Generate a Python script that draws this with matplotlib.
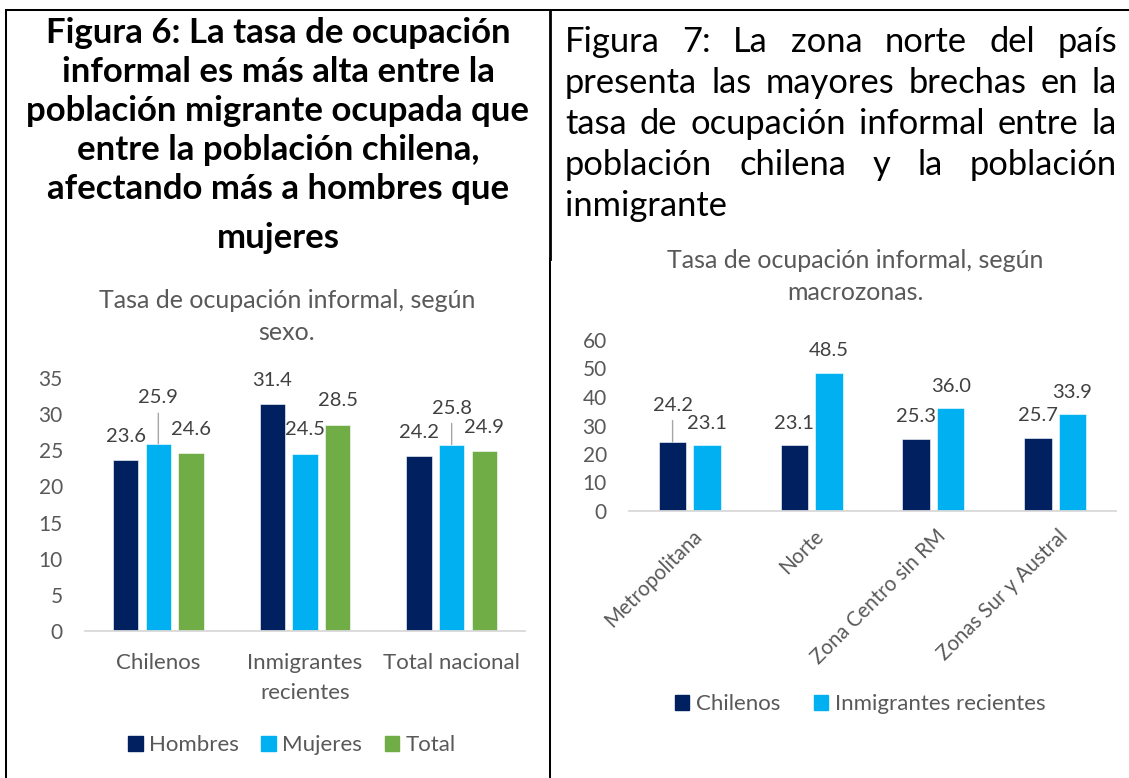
import matplotlib
matplotlib.use("Agg")
import matplotlib.pyplot as plt
from matplotlib.lines import Line2D
from matplotlib.patches import Patch
from matplotlib.transforms import offset_copy

plt.rcParams["font.family"] = ["Lato", "DejaVu Sans"]

W, H = 1129, 778

# textos
titulo_6 = ["Figura 6: La tasa de ocupación",
            "informal es más alta entre la",
            "población migrante ocupada que",
            "entre la población chilena,",
            "afectando más a hombres que",
            "mujeres"]
titulo_7 = ["Figura 7: La zona norte del país",
            "presenta las mayores brechas en la",
            "tasa de ocupación informal entre la",
            "población chilena y la población",
            "inmigrante"]
subt_6 = ["Tasa de ocupación informal, según", "sexo."]
subt_7 = ["Tasa de ocupación informal, según", "macrozonas."]

# figura 6: por sexo
grupos = ["Chilenos", "Inmigrantes\nrecientes", "Total nacional"]
series_sexo = ["Hombres", "Mujeres", "Total"]
hombres = [23.6, 31.4, 24.2]
mujeres = [25.9, 24.5, 25.8]
total = [24.6, 28.5, 24.9]

# figura 7: por macrozona
zonas = ["Metropolitana", "Norte", "Zona Centro sin RM", "Zonas Sur y Austral"]
series_zona = ["Chilenos", "Inmigrantes recientes"]
chilenos = [24.2, 23.1, 25.3, 25.7]
inmigrantes = [23.1, 48.5, 36.0, 33.9]

NAVY = "#002060"
CYAN = "#00B0F0"
GREEN = "#70AD47"
GRIS = "#595959"
ETIQ = "#404040"
EJE = "#D9D9D9"

fig = plt.figure(figsize=(W / 100, H / 100), dpi=100)


def fx(px):
    return px / W


def fy(py):
    return 1 - py / H


def px_axes(x0, ytop, x1, ybot):
    return fig.add_axes([fx(x0), fy(ybot), (x1 - x0) / W, (ybot - ytop) / H])


# bordes de la tabla
lw = 1.45
fig.add_artist(Line2D([fx(6), 1], [fy(10), fy(10)], color="black", lw=lw))
fig.add_artist(Line2D([fx(6), fx(6)], [fy(10), 0], color="black", lw=lw))
fig.add_artist(Line2D([fx(550), fx(550)], [fy(10), fy(259)], color="black", lw=2.0))
fig.add_artist(Line2D([fx(550), fx(550)], [fy(259), 0], color="black", lw=lw))

# titulo 6 (negrita, centrado)
for i, linea in enumerate(titulo_6):
    base = 43 + i * 39 + (10 if i == len(titulo_6) - 1 else 0)
    fig.text(fx(278), fy(base), linea, ha="center", va="baseline",
             fontsize=25, fontweight="bold", color="black")

# titulo 7 (justificado)
renderer = fig.canvas.get_renderer()
x_izq, x_der = 565, 1117
for i, linea in enumerate(titulo_7):
    y = fy(52 + i * 41)
    if i == len(titulo_7) - 1:
        fig.text(fx(x_izq), y, linea, ha="left", va="baseline", fontsize=24.8)
        continue
    palabras = linea.split()
    arts = [fig.text(0, y, p, ha="left", va="baseline", fontsize=24.8) for p in palabras]
    anchos = [a.get_window_extent(renderer).width for a in arts]
    hueco = (x_der - x_izq - sum(anchos)) / (len(palabras) - 1)
    xpos = x_izq
    for a, w in zip(arts, anchos):
        a.set_x(fx(xpos))
        xpos += w + hueco

# subtitulos
for i, linea in enumerate(subt_6):
    fig.text(fx(287), fy(300 + i * 33), linea, ha="center", va="center",
             fontsize=18, color=GRIS)
for i, linea in enumerate(subt_7):
    fig.text(fx(855), fy(261 + i * 32), linea, ha="center", va="center",
             fontsize=18, color=GRIS)


def estilo(ax, ymax, paso):
    ax.set_ylim(0, ymax)
    ax.set_yticks(range(0, ymax + 1, paso))
    for s in ["top", "right", "left"]:
        ax.spines[s].set_visible(False)
    ax.spines["bottom"].set_color(EJE)
    ax.spines["bottom"].set_linewidth(1.3)
    ax.tick_params(axis="both", length=0, colors=GRIS)
    ax.tick_params(axis="y", labelsize=15, pad=16)
    ax.patch.set_alpha(0)


def etiqueta(ax, x, v, off_px, guia):
    props = None
    if guia:
        props = dict(arrowstyle="-", color="#A6A6A6", lw=1.0, shrinkA=3, shrinkB=0)
    ax.annotate(f"{v:.1f}", (x, v), xytext=(0, off_px * 0.72), textcoords="offset points",
                ha="center", va="center", fontsize=14.5, color=ETIQ, arrowprops=props)


# ---- figura 6
ax1 = px_axes(85, 378, 525, 631)
ax1.set_xlim(-0.5, len(grupos) - 0.5)
estilo(ax1, 35, 5)
ancho1, dx1 = 0.174, 0.223
desplaz_6 = {(1, 0): 46, (1, 2): 36.5}
for k, (vals, color) in enumerate(zip([hombres, mujeres, total], [NAVY, CYAN, GREEN])):
    pos = [i + (k - 1) * dx1 for i in range(len(grupos))]
    ax1.bar(pos, vals, ancho1, color=color, edgecolor="white", linewidth=0.4)
    for i, (p, v) in enumerate(zip(pos, vals)):
        off = desplaz_6.get((k, i), 24)
        etiqueta(ax1, p, v, off, (k, i) in desplaz_6)
ax1.set_xticks(range(len(grupos)), grupos, fontsize=16, linespacing=1.6)
ax1.tick_params(axis="x", pad=16)

fig.legend([Patch(color=c) for c in (NAVY, CYAN, GREEN)], series_sexo,
           loc="center", bbox_to_anchor=(fx(292), fy(745)), ncol=3, frameon=False,
           fontsize=16, handlelength=0.65, handleheight=0.65, handletextpad=0.3,
           columnspacing=1.0, labelcolor=GRIS, borderaxespad=0, borderpad=0)

# ---- figura 7
ax2 = px_axes(629, 340, 1116, 511)
ax2.set_xlim(-0.5, len(zonas) - 0.5)
estilo(ax2, 60, 10)
ancho2, dx2 = 0.226, 0.142
desplaz_7 = {(0, 0): 37}
for k, (vals, color) in enumerate(zip([chilenos, inmigrantes], [NAVY, CYAN])):
    pos = [i + (2 * k - 1) * dx2 for i in range(len(zonas))]
    ax2.bar(pos, vals, ancho2, color=color, edgecolor="white", linewidth=0.4)
    for i, (p, v) in enumerate(zip(pos, vals)):
        off = desplaz_7.get((k, i), 22)
        etiqueta(ax2, p, v, off, (k, i) in desplaz_7)
ax2.set_xticks(range(len(zonas)), [""] * len(zonas))
trans = offset_copy(ax2.get_xaxis_transform(), fig=fig, x=2, y=-15, units="dots")
for i, z in enumerate(zonas):
    ax2.text(i, 0, z, transform=trans, rotation=45, rotation_mode="anchor",
             ha="right", va="top", fontsize=14.8, color=GRIS)

fig.legend([Patch(color=c) for c in (NAVY, CYAN)], series_zona,
           loc="center", bbox_to_anchor=(fx(860), fy(704)), ncol=2, frameon=False,
           fontsize=16, handlelength=0.65, handleheight=0.65, handletextpad=0.3,
           columnspacing=1.5, labelcolor=GRIS, borderaxespad=0, borderpad=0)

fig.savefig("out.png", dpi=100)
